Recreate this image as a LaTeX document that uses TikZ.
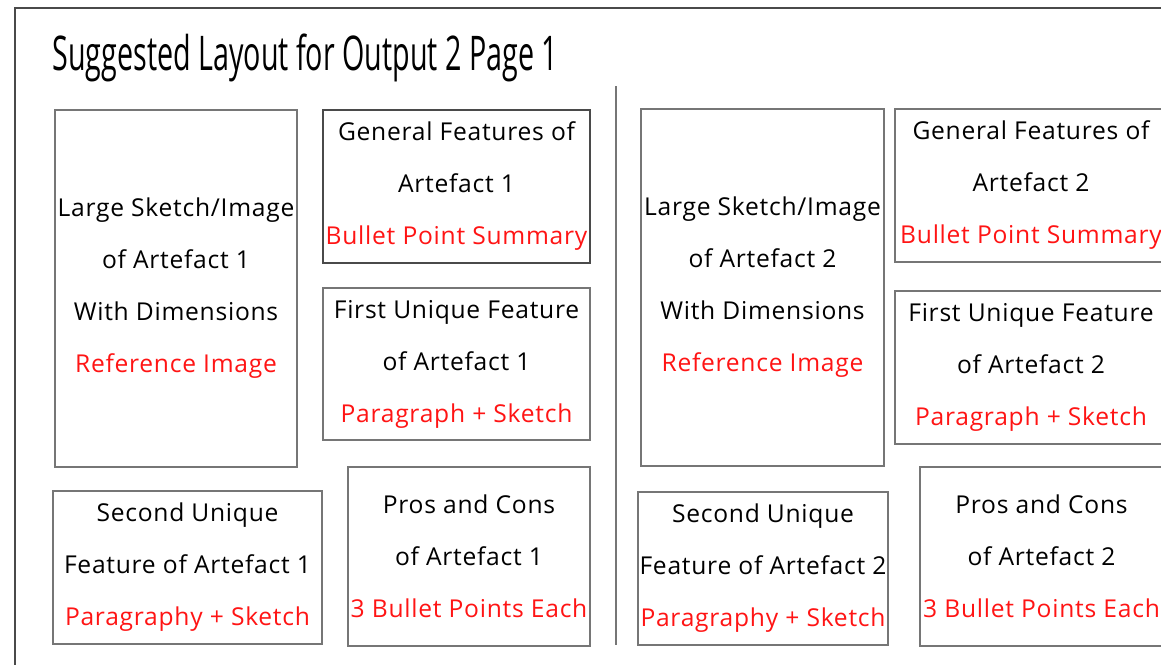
\documentclass[tikz,border=0pt]{standalone}
\usepackage{fontspec}
\setmainfont{Open Sans}
\newfontfamily\headfont[FakeStretch=0.6]{Open Sans}
\newfontfamily\notefont[LetterSpace=3]{Open Sans}
\usetikzlibrary{calc}

\definecolor{framegray}{HTML}{4A4A4A}
\definecolor{boxgray}{HTML}{767676}
\definecolor{notered}{HTML}{FF1414}

\tikzset{
  panel/.style 2 args={draw=boxgray, line width=0.9pt, minimum width=#1cm,
    minimum height=#2cm, inner sep=0pt, align=center,
    font=\notefont\fontsize{17.5}{37}\selectfont},
}
\newcommand{\hint}[1]{\textcolor{notered}{#1}}

\begin{document}
\begin{tikzpicture}[x=0.025cm, y=-0.025cm, thick]
  \useasboundingbox (0,0) rectangle (1161,664);
  \clip (0,0) rectangle (1161,664);
  % page frame, runs off to the right and bottom
  \coordinate (TL) at (15,8);
  \draw[framegray, line width=1.1pt] (15,700) -- (TL) -- (1200,8);
  % column divider
  \draw[boxgray, line width=0.9pt] (616,86) -- (616,645);

  \node[anchor=base west, inner sep=0pt, font=\headfont\fontsize{34}{40}\selectfont]
    (title) at (52,70) {Suggested Layout for Output 2 Page 1};

  % artefact 1
  \node[panel={6.05}{8.925}] (sketchA) at (176,288.5)
    {Large Sketch/Image\\of Artefact 1\\With Dimensions\\\hint{Reference Image}};
  \node[panel={6.675}{3.825}, draw=framegray] (generalA) at (456.5,186.5)
    {General Features of\\Artefact 1\\\hint{Bullet Point Summary}};
  \node[panel={6.675}{3.8}] (firstA) at (456.5,364)
    {First Unique Feature\\of Artefact 1\\\hint{Paragraph + Sketch}};
  \node[panel={6.725}{3.825}] (secondA) at (187.5,567.5)
    {Second Unique\\Feature of Artefact 1\\\hint{Paragraphy + Sketch}};
  \node[panel={6.05}{4.475}] (prosA) at (469,556.5)
    {Pros and Cons\\of Artefact 1\\\hint{3 Bullet Points Each}};

  % artefact 2
  \node[panel={6.075}{8.925}] (sketchB) at (762.5,287.5)
    {Large Sketch/Image\\of Artefact 2\\With Dimensions\\\hint{Reference Image}};
  \node[panel={6.8}{3.825}] (generalB) at (1031,185.5)
    {General Features of\\Artefact 2\\\hint{Bullet Point Summary}};
  \node[panel={6.8}{3.825}] (firstB) at (1031,367.5)
    {First Unique Feature\\of Artefact 2\\\hint{Paragraph + Sketch}};
  \node[panel={6.25}{3.825}] (secondB) at (763,568.5)
    {Second Unique\\Feature of Artefact 2\\\hint{Paragraphy + Sketch}};
  \node[panel={6.075}{4.475}] (prosB) at (1041.5,556.5)
    {Pros and Cons\\of Artefact 2\\\hint{3 Bullet Points Each}};
\end{tikzpicture}
\end{document}
